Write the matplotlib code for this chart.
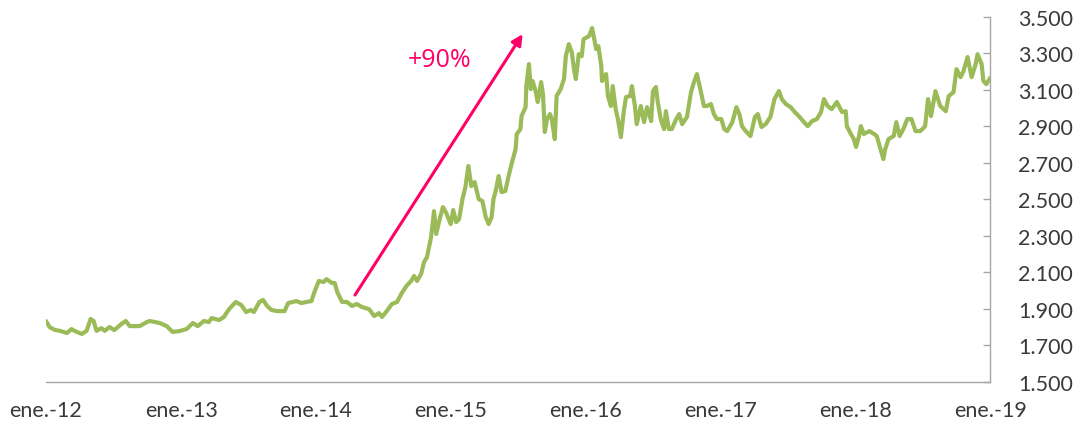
import matplotlib.pyplot as plt
import matplotlib.dates as mdates
import matplotlib.ticker as mticker
import numpy as np
import pandas as pd


# Tasa de cambio COP/USD
fechas = [
    '2012-01-02', '2012-01-11', '2012-01-25', '2012-02-08', '2012-02-27', '2012-03-10',
    '2012-03-18', '2012-04-07', '2012-04-20', '2012-05-01', '2012-05-09', '2012-05-17',
    '2012-05-30', '2012-06-08', '2012-06-21', '2012-07-04', '2012-07-23', '2012-08-04',
    '2012-08-15', '2012-09-11', '2012-09-30', '2012-10-08', '2012-11-04', '2012-11-23',
    '2012-12-09', '2012-12-28', '2013-01-16', '2013-02-02', '2013-02-15', '2013-03-04',
    '2013-03-17', '2013-03-25', '2013-04-14', '2013-04-27', '2013-05-11', '2013-05-29',
    '2013-06-13', '2013-06-26', '2013-07-09', '2013-07-17', '2013-08-01', '2013-08-11',
    '2013-08-22', '2013-09-03', '2013-09-19', '2013-10-08', '2013-10-18', '2013-11-09',
    '2013-11-23', '2013-12-06', '2013-12-20', '2013-12-28', '2014-01-09', '2014-01-22',
    '2014-01-30', '2014-02-13', '2014-02-21', '2014-02-28', '2014-03-13', '2014-03-26',
    '2014-04-09', '2014-04-22', '2014-05-06', '2014-05-25', '2014-06-08', '2014-06-21',
    '2014-06-29', '2014-07-12', '2014-07-26', '2014-08-09', '2014-08-20', '2014-09-03',
    '2014-09-16', '2014-09-24', '2014-10-02', '2014-10-13', '2014-10-21', '2014-10-29',
    '2014-11-09', '2014-11-17', '2014-11-23', '2014-12-01', '2014-12-11', '2014-12-19',
    '2015-01-01', '2015-01-08', '2015-01-16', '2015-01-24', '2015-02-02', '2015-02-10',
    '2015-02-18', '2015-02-26', '2015-03-07', '2015-03-18', '2015-03-28', '2015-04-06',
    '2015-04-14', '2015-04-22', '2015-04-27', '2015-05-03', '2015-05-11', '2015-05-19',
    '2015-05-29', '2015-06-07', '2015-06-15', '2015-06-26', '2015-06-29', '2015-07-09',
    '2015-07-12', '2015-07-23', '2015-07-25', '2015-08-01', '2015-08-06', '2015-08-11',
    '2015-08-19', '2015-08-25', '2015-09-03', '2015-09-08', '2015-09-13', '2015-09-19',
    '2015-09-27', '2015-10-02', '2015-10-10', '2015-10-15', '2015-10-26', '2015-11-04',
    '2015-11-09', '2015-11-17', '2015-11-25', '2015-12-01', '2015-12-06', '2015-12-14',
    '2015-12-22', '2015-12-27', '2016-01-11', '2016-01-19', '2016-01-24', '2016-01-30',
    '2016-02-05', '2016-02-13', '2016-02-15', '2016-02-26', '2016-03-02', '2016-03-10',
    '2016-03-15', '2016-03-23', '2016-03-29', '2016-04-06', '2016-04-14', '2016-04-20',
    '2016-05-01', '2016-05-06', '2016-05-14', '2016-05-19', '2016-05-30', '2016-06-08',
    '2016-06-16', '2016-06-27', '2016-07-02', '2016-07-10', '2016-07-15', '2016-07-23',
    '2016-08-01', '2016-08-06', '2016-08-14', '2016-08-22', '2016-09-03', '2016-09-11',
    '2016-09-19', '2016-10-02', '2016-10-13', '2016-10-21', '2016-10-29', '2016-11-09',
    '2016-11-17', '2016-11-25', '2016-12-06', '2016-12-14', '2016-12-22', '2017-01-03',
    '2017-01-11', '2017-01-19', '2017-02-02', '2017-02-13', '2017-02-21', '2017-02-28',
    '2017-03-10', '2017-03-23', '2017-04-04', '2017-04-12', '2017-04-22', '2017-05-03',
    '2017-05-16', '2017-05-27', '2017-06-08', '2017-06-16', '2017-06-27', '2017-07-10',
    '2017-07-21', '2017-08-01', '2017-08-15', '2017-08-25', '2017-09-06', '2017-09-19',
    '2017-09-30', '2017-10-08', '2017-10-18', '2017-10-29', '2017-11-12', '2017-11-26',
    '2017-12-06', '2017-12-09', '2017-12-20', '2017-12-28', '2018-01-03', '2018-01-11',
    '2018-01-16', '2018-01-24', '2018-02-08', '2018-02-21', '2018-02-28', '2018-03-10',
    '2018-03-18', '2018-03-23', '2018-04-01', '2018-04-15', '2018-04-22', '2018-05-01',
    '2018-05-11', '2018-05-22', '2018-06-02', '2018-06-13', '2018-06-26', '2018-07-09',
    '2018-07-17', '2018-07-25', '2018-08-06', '2018-08-19', '2018-09-03', '2018-09-11',
    '2018-09-24', '2018-10-02', '2018-10-13', '2018-10-21', '2018-11-01', '2018-11-12',
    '2018-11-23', '2018-11-28', '2018-12-09', '2018-12-14', '2018-12-22', '2018-12-31',
]

cop_usd = [
    1830, 1800, 1785, 1780, 1768, 1790, 1780, 1763, 1780, 1845, 1834, 1780,
    1795, 1780, 1801, 1784, 1817, 1834, 1806, 1806, 1828, 1834, 1823, 1806,
    1774, 1779, 1790, 1823, 1806, 1834, 1828, 1850, 1839, 1856, 1899, 1938,
    1921, 1883, 1894, 1883, 1938, 1949, 1916, 1894, 1888, 1888, 1932, 1943,
    1932, 1938, 1943, 1992, 2053, 2047, 2063, 2042, 2042, 1992, 1938, 1938,
    1916, 1927, 1910, 1899, 1861, 1877, 1856, 1888, 1927, 1938, 1981, 2025,
    2053, 2080, 2053, 2091, 2156, 2184, 2293, 2435, 2310, 2381, 2457, 2430,
    2364, 2441, 2375, 2392, 2501, 2567, 2682, 2572, 2594, 2501, 2490, 2403,
    2364, 2403, 2501, 2545, 2627, 2539, 2545, 2627, 2693, 2775, 2857, 2884,
    2955, 3004, 3119, 3240, 3103, 3147, 3092, 3032, 3141, 3076, 2868, 2939,
    2966, 2939, 2829, 3065, 3103, 3158, 3283, 3349, 3305, 3212, 3158, 3294,
    3283, 3376, 3393, 3437, 3387, 3322, 3338, 3229, 3147, 3185, 3065, 3010,
    3119, 2993, 2939, 2840, 2982, 3059, 3065, 3119, 3010, 2911, 3010, 2922,
    3004, 2928, 3092, 3114, 3032, 2939, 2884, 2982, 2884, 2884, 2939, 2966,
    2911, 2950, 3086, 3141, 3185, 3086, 3010, 3010, 3021, 2966, 2939, 2939,
    2884, 2873, 2922, 3004, 2966, 2900, 2873, 2846, 2950, 2966, 2895, 2911,
    2950, 3048, 3092, 3048, 3021, 3004, 2977, 2955, 2922, 2900, 2928, 2939,
    2977, 3048, 3010, 2993, 3032, 2977, 2982, 2900, 2857, 2829, 2786, 2846,
    2900, 2857, 2873, 2857, 2846, 2775, 2720, 2775, 2829, 2846, 2922, 2846,
    2884, 2939, 2939, 2873, 2873, 2900, 3048, 2955, 3092, 3010, 2982, 3065,
    3086, 3212, 3168, 3201, 3278, 3168, 3240, 3294, 3240, 3147, 3130, 3160,
]

anios = [2012, 2013, 2014, 2015, 2016, 2017, 2018, 2019]
etiquetas_x = ['ene.-12', 'ene.-13', 'ene.-14', 'ene.-15',
               'ene.-16', 'ene.-17', 'ene.-18', 'ene.-19']
ticks_y = np.arange(1500, 3501, 200)

verde = '#9bbb59'
rosa = '#ff0066'
gris = '#3a3a3a'


def main():
    plt.rcParams['font.family'] = ['Lato', 'DejaVu Sans']

    fig = plt.figure(figsize=(10.79, 4.27), dpi=100)
    ax = fig.add_axes([0.0426, 0.103, 0.875, 0.856])

    x = pd.to_datetime(fechas)
    ax.plot(x, cop_usd, color=verde, lw=3, solid_joinstyle='round')

    # Flecha y texto de la devaluacion
    ax.annotate('', xy=(pd.Timestamp('2015-07-15'), 3404),
                xytext=(pd.Timestamp('2014-04-17'), 1976),
                arrowprops=dict(arrowstyle='-|>', color=rosa, lw=2.2,
                                mutation_scale=16, shrinkA=0, shrinkB=0))
    ax.text(pd.Timestamp('2014-09-08'), 3229, '+90%', color=rosa,
            fontsize=18, family=['Open Sans', 'DejaVu Sans'],
            ha='left', va='baseline')

    # Ejes
    ax.set_xlim(pd.Timestamp('2012-01-01'), pd.Timestamp('2019-01-01'))
    ax.set_ylim(1500, 3500)

    ax.set_xticks([pd.Timestamp(f'{a}-01-01') for a in anios])
    ax.set_xticklabels(etiquetas_x)
    ax.set_yticks(ticks_y)
    ax.yaxis.set_major_formatter(
        mticker.FuncFormatter(lambda v, p: f'{v:,.0f}'.replace(',', '.')))

    ax.yaxis.tick_right()
    ax.tick_params(axis='y', direction='in', length=5, width=1, color='#a6a6a6',
                   pad=20, labelsize=15.5, labelcolor=gris)
    ax.tick_params(axis='x', length=0, pad=13, labelsize=15.5, labelcolor=gris)

    for lado in ['left', 'top']:
        ax.spines[lado].set_visible(False)
    for lado in ['right', 'bottom']:
        ax.spines[lado].set_color('#a6a6a6')
        ax.spines[lado].set_linewidth(1)

    fig.savefig('out.png', dpi=100)


if __name__ == '__main__':
    main()
